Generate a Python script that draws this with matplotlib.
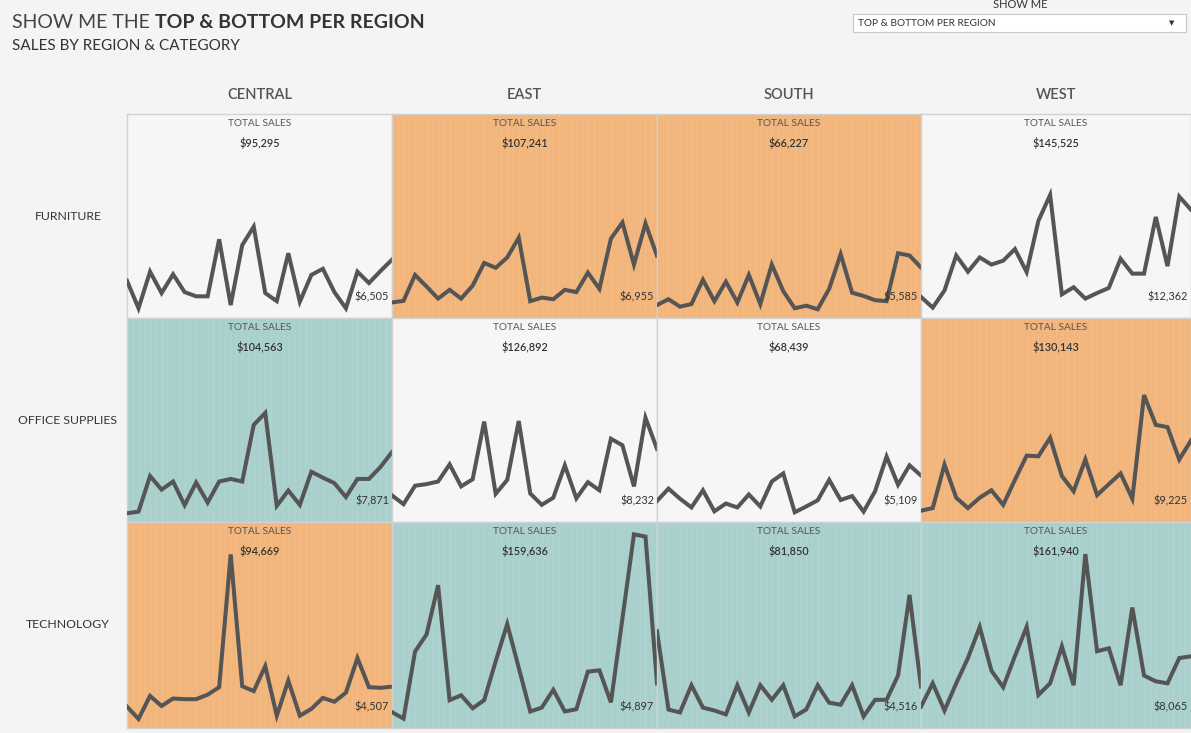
"""Sales by region & category: sparkline grid, top (teal) and bottom (orange) per region."""
import matplotlib
matplotlib.use("Agg")
import matplotlib.pyplot as plt
import numpy as np

plt.rcParams["font.family"] = ["Lato", "DejaVu Sans"]

regions = ["CENTRAL", "EAST", "SOUTH", "WEST"]
categories = ["FURNITURE", "OFFICE SUPPLIES", "TECHNOLOGY"]

# total sales per category, ordered like `regions`
total_furniture = [95295, 107241, 66227, 145525]
total_office = [104563, 126892, 68439, 130143]
total_technology = [94669, 159636, 81850, 161940]

# monthly sales (24 periods)
furniture_central = [4028, 798, 5092, 2584, 4788, 2698, 2204, 2204, 8892, 1178, 8208, 10374,
                     2584, 1634, 7258, 1558, 4712, 5434, 2698, 798, 5092, 3762, 5168, 6505]
furniture_east = [1482, 1672, 4712, 3344, 1938, 2964, 1938, 3458, 6118, 5548, 6764, 9082,
                  1634, 2052, 1862, 2964, 2698, 4978, 3078, 8968, 10868, 5928, 10754, 6955]
furniture_south = [1178, 1862, 988, 1292, 4142, 1634, 3914, 1482, 4712, 1292, 5928, 2812,
                   798, 1102, 684, 3078, 7144, 2622, 2242, 1748, 1634, 7258, 6992, 5585]
furniture_west = [2128, 874, 2888, 6992, 5092, 6764, 5928, 6384, 7752, 5054, 11058, 14098,
                  2432, 3268, 1938, 2584, 3192, 6612, 4864, 4864, 11514, 5738, 13908, 12362]

office_central = [684, 874, 5054, 3458, 4408, 1634, 4294, 1938, 4408, 4712, 4408, 11058,
                  12464, 1558, 3344, 1672, 5548, 4864, 4218, 2584, 4712, 4712, 6118, 7871]
office_east = [2774, 1748, 3914, 4104, 4408, 6422, 3838, 4674, 11438, 2964, 4598, 11514,
               3002, 1672, 2508, 6308, 2432, 4332, 3382, 9424, 8664, 3838, 11894, 8232]
office_south = [2128, 3572, 2394, 1368, 3382, 912, 1824, 1368, 2888, 1482, 4408, 5358,
                798, 1482, 2204, 4598, 2242, 2698, 874, 3268, 7334, 4028, 6308, 5109]
office_west = [988, 1292, 6384, 2508, 1292, 2508, 3382, 1672, 4598, 7448, 7372, 9538,
               5054, 3268, 6992, 2812, 4104, 5358, 2394, 14554, 11058, 10792, 6992, 9225]

technology_central = [2166, 722, 3420, 2242, 3116, 3040, 3040, 3572, 4446, 20026, 4560, 3990,
                      6916, 1102, 5206, 1102, 1900, 3192, 2736, 3800, 7866, 4446, 4370, 4507]
technology_east = [1520, 760, 8626, 10640, 16416, 2926, 3496, 1976, 2926, 7486, 11856, 6726,
                   1596, 2052, 4142, 1596, 1862, 6270, 6422, 2660, 12502, 22382, 22116, 4897]
technology_south = [11000, 1824, 1482, 4674, 2052, 1710, 1254, 4674, 1482, 4674, 2964, 4674,
                    1026, 1824, 4674, 2622, 2394, 4674, 1026, 2964, 2964, 5814, 15276, 4516]
technology_west = [2166, 4902, 1710, 4902, 7866, 11514, 6384, 4446, 8094, 11514, 3534, 4902,
                   9234, 4674, 20064, 8664, 9006, 4674, 13794, 5814, 5130, 4902, 7866, 8065]

series = [
    [furniture_central, furniture_east, furniture_south, furniture_west],
    [office_central, office_east, office_south, office_west],
    [technology_central, technology_east, technology_south, technology_west],
]
totals = np.array([total_furniture, total_office, total_technology])

W, H = 1191, 733
BG = "#f4f4f4"
PLAIN = "#f6f6f6"
TOP = "#a9d0cc"
BOTTOM = "#f2b57b"
LINE = "#555555"

col_edges = [127, 392, 657, 921, 1191]
row_edges = [114, 318, 522, 728]


def px_box(x0, y0, x1, y1):
    return [x0 / W, 1 - y1 / H, (x1 - x0) / W, (y1 - y0) / H]


fig = plt.figure(figsize=(W / 100, H / 100), dpi=100, facecolor=BG)

top_idx = totals.argmax(axis=0)
bot_idx = totals.argmin(axis=0)

for r, cat in enumerate(categories):
    for c, reg in enumerate(regions):
        x0, x1 = col_edges[c], col_edges[c + 1]
        y0, y1 = row_edges[r], row_edges[r + 1]
        ax = fig.add_axes(px_box(x0, y0, x1, y1))
        if top_idx[c] == r:
            face = TOP
        elif bot_idx[c] == r:
            face = BOTTOM
        else:
            face = PLAIN
        ax.set_facecolor(face)
        vals = series[r][c]
        xs = np.arange(len(vals))
        if face != PLAIN:
            for xv in np.arange(0, len(vals) - 0.9, 0.5):
                ax.axvline(xv, color="white", alpha=0.07, lw=0.8, zorder=1)
        ax.plot(xs, vals, color=LINE, lw=2.9, solid_joinstyle="miter", zorder=3)
        ax.set_xlim(0, len(vals) - 1)
        ax.set_ylim(-342, 207 * 114 + (y1 - y0 - 204) * 114)
        ax.set_xticks([])
        ax.set_yticks([])
        for sp in ax.spines.values():
            sp.set_color("#d2d2d2")
            sp.set_linewidth(1)
        h = y1 - y0
        ax.text(0.5, 1 - 9 / h, "TOTAL SALES", transform=ax.transAxes, ha="center",
                va="center", fontsize=7.3, color="#555555")
        ax.text(0.5, 1 - 29 / h, f"${totals[r, c]:,}", transform=ax.transAxes, ha="center",
                va="center", fontsize=7.8, color="#333333", fontweight="semibold")
        ax.text(1 - 3 / (x1 - x0), 21 / h, f"${vals[-1]:,}", transform=ax.transAxes,
                ha="right", va="center", fontsize=7.8, color="#333333", zorder=4)

# column headers and row labels
for c, reg in enumerate(regions):
    xc = (col_edges[c] + col_edges[c + 1]) / 2
    fig.text(xc / W, 1 - 95 / H, reg, ha="center", va="center", fontsize=10.5,
             color="#555555", fontweight="semibold")
for r, cat in enumerate(categories):
    yc = (row_edges[r] + row_edges[r + 1]) / 2
    fig.text(68 / W, 1 - yc / H, cat, ha="center", va="center", fontsize=8.8,
             color="#333333")

# title
t1 = fig.text(12 / W, 1 - 23 / H, "SHOW ME THE ", ha="left", va="center", fontsize=14,
              color="#444444", fontweight="normal")
fig.canvas.draw()
bb = t1.get_window_extent()
fig.text(bb.x1 / W, 1 - 23 / H, "TOP & BOTTOM PER REGION", ha="left", va="center",
         fontsize=14, color="#333333", fontweight="bold")
fig.text(12 / W, 1 - 46 / H, "SALES BY REGION & CATEGORY", ha="left", va="center",
         fontsize=11, color="#333333")

# "show me" selector
fig.text(1020 / W, 1 - 5 / H, "SHOW ME", ha="center", va="center", fontsize=8,
         color="#333333")
box = fig.add_axes(px_box(853, 14, 1186, 32))
box.set_facecolor("white")
box.set_xticks([])
box.set_yticks([])
for sp in box.spines.values():
    sp.set_color("#c8c8c8")
box.text(5 / 333, 0.5, "TOP & BOTTOM PER REGION", transform=box.transAxes, ha="left",
         va="center", fontsize=7.3, color="#333333")
box.text(1 - 14 / 333, 0.5, "▼", transform=box.transAxes, ha="center", va="center",
         fontsize=5, color="#333333", family="DejaVu Sans")

fig.savefig("out.png", dpi=100, facecolor=BG)
